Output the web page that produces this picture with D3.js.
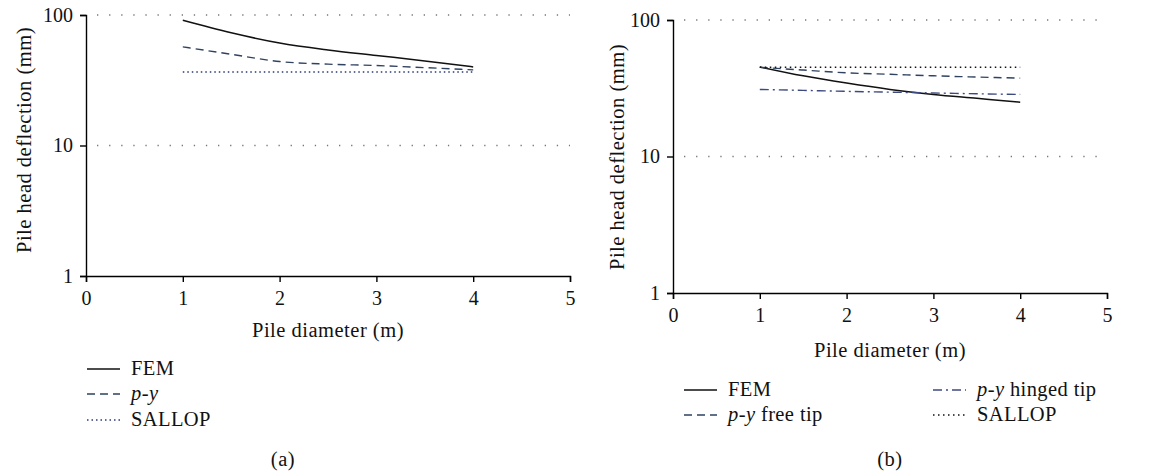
<!DOCTYPE html>
<html>
<head>
<meta charset="utf-8">
<script src="https://cdn.jsdelivr.net/npm/d3@7"></script>
<style>
  body { margin: 0; background: #fff; }
  svg text { font-family: "Liberation Serif", "Times New Roman", Times, Tinos, "Noto Serif", "DejaVu Serif", FreeSerif, serif; fill: #111; }
  .axis path, .axis line { stroke: #000; stroke-width: 1.4px; }
  .axis text { font-size: 20px; }
  .label { font-size: 20.5px; letter-spacing: 0.5px; }
  .leg { font-size: 20.5px; letter-spacing: 0.4px; }
</style>
</head>
<body>
<svg id="chart" width="1174" height="474"></svg>
<script>
// data
const diameters = [1, 1.5, 2, 2.5, 3, 3.5, 4];
const xTicks = [0, 1, 2, 3, 4, 5];
const yTicks = [1, 10, 100];

// panel (a)
const femA = [91, 73, 61, 54, 49, 44.5, 40];
const pyA = [57, 50, 44, 42, 41, 39.5, 38];
const sallopA = [36.5, 36.5, 36.5, 36.5, 36.5, 36.5, 36.5];

// panel (b)
const femB = [45.3, 39, 34.5, 31, 28.5, 26.7, 25];
const pyFreeB = [45, 43, 41, 40, 39, 38.2, 37.5];
const pyHingedB = [31, 30.5, 30, 29.6, 29.2, 28.8, 28.5];
const sallopB = [45, 45, 45, 45, 45, 45, 45];

const svg = d3.select('#chart')
const serif = '"Liberation Serif", "Times New Roman", Times, Tinos, "DejaVu Serif", serif'

// line styles
const styles = {
  fem:    { stroke: '#111', dash: null, width: 1.5 },
  py:     { stroke: '#2f4260', dash: '8,5', width: 1.4 },
  sallopA:{ stroke: '#2b3a7a', dash: '1.5,3', width: 1.5 },
  hinged: { stroke: '#3d4a80', dash: '9,4,2,4', width: 1.4 },
  sallopB:{ stroke: '#111', dash: '1.5,3.5', width: 1.5 }
}

function panel(opt) {
  const x = d3.scaleLinear().domain([0, 5]).range([opt.left, opt.right])
  const y = d3.scaleLog().domain([1, 100]).range([opt.bottom, opt.top])
  const g = svg.append('g').attr('font-family', serif)

  // dotted grid at 10 and 100
  g.selectAll('.grid').data([10, 100]).enter().append('line')
    .attr('x1', x(0) + 11).attr('x2', x(5))
    .attr('y1', (d) => y(d)).attr('y2', (d) => y(d))
    .attr('stroke', '#777').attr('stroke-width', 1.3)
    .attr('stroke-dasharray', '1.3,10.8')

  g.append('g').attr('class', 'axis')
    .attr('transform', `translate(${opt.left},0)`)
    .call(d3.axisLeft(y).tickValues(yTicks).tickFormat(d3.format('d')).tickSize(6).tickPadding(7))
    .attr('font-family', serif)

  g.append('g').attr('class', 'axis')
    .attr('transform', `translate(0,${opt.bottom})`)
    .call(d3.axisBottom(x).tickValues(xTicks).tickFormat(d3.format('d')).tickSize(6).tickPadding(9))
    .attr('font-family', serif)

  g.selectAll('.domain').attr('stroke-width', 1.6)

  const line = d3.line()
    .x((d, i) => x(diameters[i]))
    .y((d) => y(d))
    .curve(d3.curveMonotoneX)

  opt.series.forEach((s) => {
    const st = styles[s.style]
    g.append('path')
      .datum(s.values)
      .attr('d', line)
      .attr('fill', 'none')
      .attr('stroke', st.stroke)
      .attr('stroke-width', st.width)
      .attr('stroke-dasharray', st.dash)
  })

  // axis titles
  g.append('text').attr('class', 'label')
    .attr('text-anchor', 'middle')
    .attr('x', (opt.left + opt.right) / 2)
    .attr('y', opt.xTitleY)
    .text('Pile diameter (m)')

  g.append('text').attr('class', 'label')
    .attr('text-anchor', 'middle')
    .attr('transform', `translate(${opt.yTitleX},${opt.yTitleMid}) rotate(-90)`)
    .text('Pile head deflection (mm)')

  // legend
  opt.series.forEach((s) => {
    const st = styles[s.style]
    const lg = g.append('g').attr('transform', `translate(${s.lx},${s.ly})`)
    lg.append('line')
      .attr('x1', 0).attr('x2', 33).attr('y1', 0).attr('y2', 0)
      .attr('stroke', st.stroke).attr('stroke-width', st.width)
      .attr('stroke-dasharray', st.dash)
    const t = lg.append('text').attr('class', 'leg').attr('x', 44).attr('y', 6)
    if (s.py) {
      t.append('tspan').style('font-style', 'italic').text('p')
      t.append('tspan').text('-')
      t.append('tspan').style('font-style', 'italic').text('y')
      if (s.name) t.append('tspan').text(' ' + s.name)
    } else {
      t.text(s.name)
    }
  })

  g.append('text').attr('class', 'label')
    .attr('text-anchor', 'middle')
    .attr('x', opt.capX).attr('y', opt.capY)
    .text(opt.caption)
}

panel({
  left: 86, right: 570, top: 15, bottom: 276,
  xTitleY: 337, yTitleX: 31, yTitleMid: 140,
  capX: 283, capY: 466, caption: '(a)',
  series: [
    { values: femA, style: 'fem', name: 'FEM', lx: 87, ly: 369 },
    { values: pyA, style: 'py', name: '', py: true, lx: 87, ly: 394 },
    { values: sallopA, style: 'sallopA', name: 'SALLOP', lx: 87, ly: 420 }
  ]
})

panel({
  left: 673, right: 1107, top: 20, bottom: 293,
  xTitleY: 357, yTitleX: 624, yTitleMid: 157,
  capX: 890, capY: 466, caption: '(b)',
  series: [
    { values: femB, style: 'fem', name: 'FEM', lx: 684, ly: 390 },
    { values: pyFreeB, style: 'py', name: 'free tip', py: true, lx: 684, ly: 415 },
    { values: pyHingedB, style: 'hinged', name: 'hinged tip', py: true, lx: 933, ly: 390 },
    { values: sallopB, style: 'sallopB', name: 'SALLOP', lx: 933, ly: 415 }
  ]
})
</script>
</body>
</html>
